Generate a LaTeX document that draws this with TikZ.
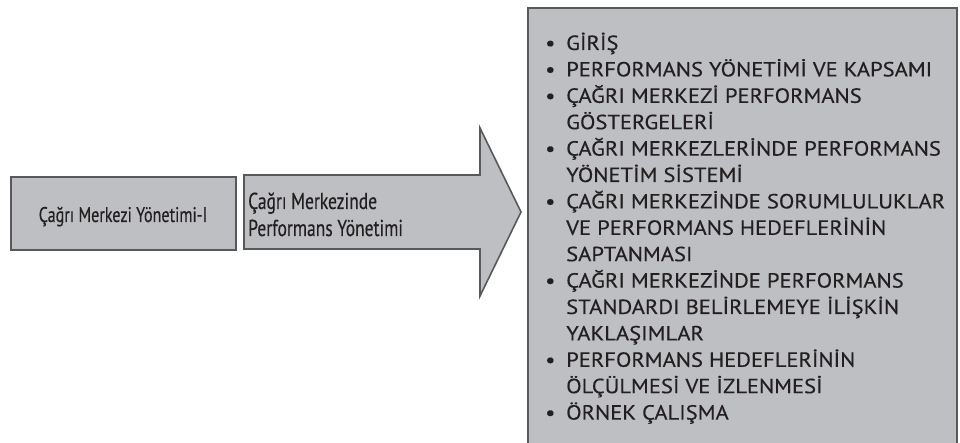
\documentclass[tikz,border=0pt]{standalone}
\usepackage{fontspec}
\setmainfont{PT Sans}
\newfontfamily\condfont[FakeStretch=0.76,FakeBold=0.3]{PT Sans}
\newfontfamily\listfont[FakeStretch=1.1,FakeBold=0.3]{PT Sans}
\definecolor{boxfill}{RGB}{190,191,195}
\definecolor{boxline}{RGB}{88,89,91}
\definecolor{txt}{RGB}{35,31,32}
\begin{document}
\begin{tikzpicture}[x=1pt,y=-1pt,
  panel/.style={fill=boxfill,draw=boxline},
  condtext/.style={text=txt,inner sep=0pt},
  listtext/.style={font=\listfont\fontsize{20.5}{26.4}\selectfont,text=txt,inner sep=0pt}]
\useasboundingbox (0,0) rectangle (960,443);
% left box
\node[panel,line width=2.4pt,minimum width=225pt,minimum height=73pt,anchor=north west,inner sep=0pt] (left) at (10,176) {};
\node[condtext,font=\condfont\fontsize{21.2}{26}\selectfont,anchor=base] (lefttext) at (123,222) {Çağrı Merkezi Yönetimi-I};
% arrow
\coordinate (a1) at (244,175);
\coordinate (a2) at (480,175);
\coordinate (a3) at (480,128);
\coordinate (tip) at (521,212);
\coordinate (a5) at (480,296);
\coordinate (a6) at (480,249);
\coordinate (a7) at (244,249);
\draw[panel,line width=1.6pt,line join=miter] (a1) -- (a2) -- (a3) -- (tip) -- (a5) -- (a6) -- (a7) -- cycle;
\node[condtext,font=\condfont\fontsize{23}{27}\selectfont,anchor=base west] (arrowtext) at (248,209) {%
\begin{tabular}[t]{@{}l@{}}Çağrı Merkezinde\\Performans Yönetimi\end{tabular}};
% right box
\node[panel,line width=2pt,minimum width=429pt,minimum height=445pt,anchor=north west,inner sep=0pt] (right) at (527,7) {};
\node[listtext,anchor=base west] (list) at (545,50) {%
\begin{tabular}[t]{@{}p{21pt}@{}l@{}}
\textbullet & GİRİŞ\\
\textbullet & PERFORMANS YÖNETİMİ VE KAPSAMI\\
\textbullet & ÇAĞRI MERKEZİ PERFORMANS\\
 & GÖSTERGELERİ\\
\textbullet & ÇAĞRI MERKEZLERİNDE PERFORMANS\\
 & YÖNETİM SİSTEMİ\\
\textbullet & ÇAĞRI MERKEZİNDE SORUMLULUKLAR\\
 & VE PERFORMANS HEDEFLERİNİN\\
 & SAPTANMASI\\
\textbullet & ÇAĞRI MERKEZİNDE PERFORMANS\\
 & STANDARDI BELİRLEMEYE İLİŞKİN\\
 & YAKLAŞIMLAR\\
\textbullet & PERFORMANS HEDEFLERİNİN\\
 & ÖLÇÜLMESİ VE İZLENMESİ\\
\textbullet & ÖRNEK ÇALIŞMA
\end{tabular}};
\end{tikzpicture}
\end{document}
